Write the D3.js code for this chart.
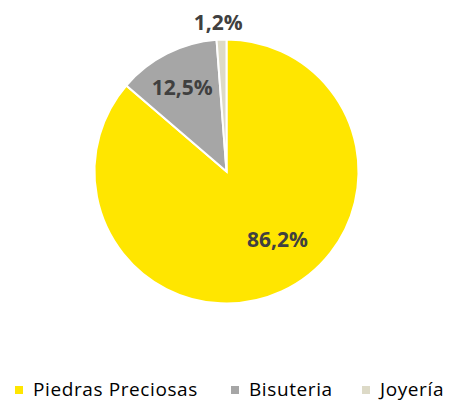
<!DOCTYPE html>
<html>
<head>
<meta charset="utf-8">
<script src="https://cdn.jsdelivr.net/npm/d3@7"></script>
<style>
  body { margin: 0; background: #fff; }
  text { font-family: "Open Sans", sans-serif; }
</style>
</head>
<body>
<div id="chart"></div>
<script>
// datos
const categories = ['Piedras Preciosas', 'Bisuteria', 'Joyería'];
const values = [86.2, 12.5, 1.2];
const labels = ['86,2%', '12,5%', '1,2%'];
const colors = ['#FFE600', '#A6A6A6', '#DDDAC7'];

const width = 453, height = 402;
const cx = 226.5, cy = 171.5, radius = 132;

const svg = d3.select('#chart')
    .append('svg')
    .attr('width', width)
    .attr('height', height);

const pie = d3.pie().sort(null).value(d => d);
const arcs = pie(values);

const arc = d3.arc().innerRadius(0).outerRadius(radius);

const g = svg.append('g').attr('transform', `translate(${cx},${cy})`);

g.selectAll('path')
    .data(arcs)
    .enter()
    .append('path')
    .attr('d', arc)
    .attr('fill', (d, i) => colors[i])
    .attr('stroke', '#fff')
    .attr('stroke-width', 2);

// posiciones de etiquetas (radio relativo, desplazamiento angular en grados)
const labelRadius = [0.645, 0.72, 1.13];
const labelShift = [-12, -1, -1];
g.selectAll('text.lbl')
    .data(arcs)
    .enter()
    .append('text')
    .attr('class', 'lbl')
    .attr('transform', (d, i) => {
        const a = (d.startAngle + d.endAngle) / 2 + labelShift[i] * Math.PI / 180;
        const r = radius * labelRadius[i];
        return `translate(${Math.sin(a) * r},${-Math.cos(a) * r})`;
    })
    .attr('text-anchor', 'middle')
    .attr('dy', '0.36em')
    .attr('font-size', 21)
    .attr('font-weight', 'bold')
    .attr('fill', '#404040')
    .text((d, i) => labels[i]);

// leyenda
const legendX = [15, 231, 362];
const legend = svg.append('g').attr('transform', 'translate(0,396)');
const item = legend.selectAll('g')
    .data(categories)
    .enter()
    .append('g')
    .attr('transform', (d, i) => `translate(${legendX[i]},0)`);

item.append('rect')
    .attr('x', 0).attr('y', -10)
    .attr('width', 8).attr('height', 8)
    .attr('fill', (d, i) => colors[i]);

item.append('text')
    .attr('x', 18)
    .attr('y', 0)
    .attr('font-size', 19)
    .attr('letter-spacing', 0.6)
    .attr('fill', '#000')
    .text(d => d);
</script>
</body>
</html>
